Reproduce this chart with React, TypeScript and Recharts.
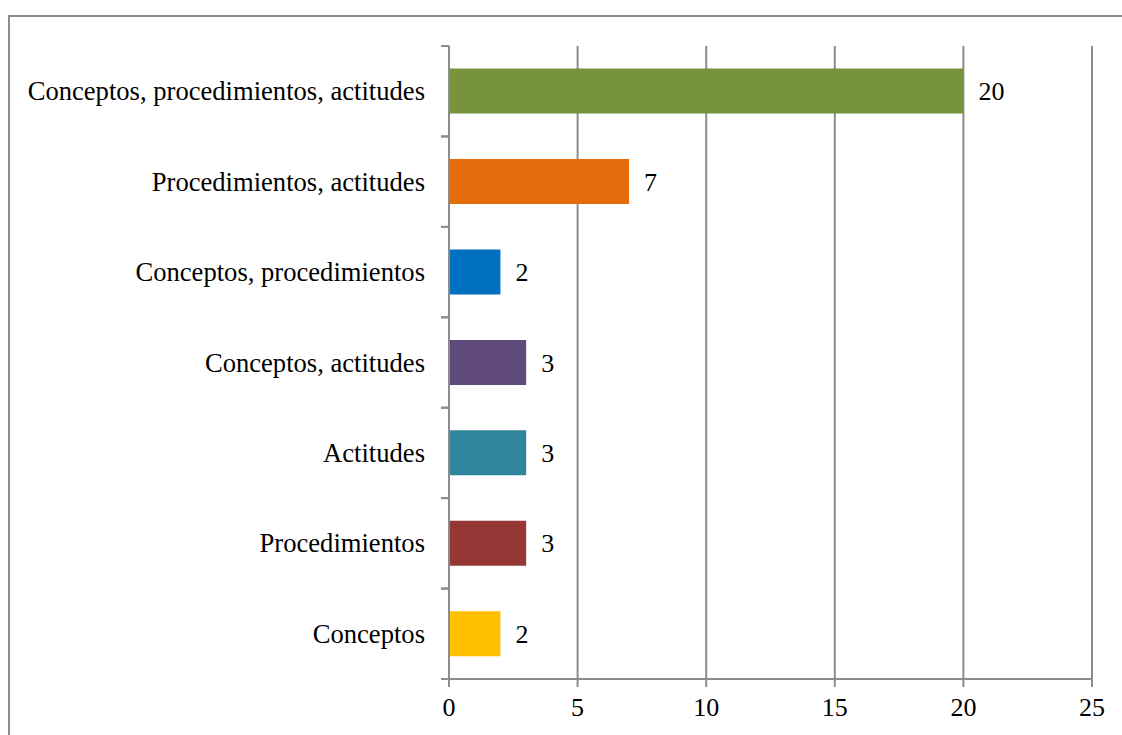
import React from "react";
import { BarChart, Bar, XAxis, YAxis, CartesianGrid, Cell, LabelList } from "recharts";

const categories = [
  "Conceptos, procedimientos, actitudes",
  "Procedimientos, actitudes",
  "Conceptos, procedimientos",
  "Conceptos, actitudes",
  "Actitudes",
  "Procedimientos",
  "Conceptos",
];
const values = [20, 7, 2, 3, 3, 3, 2];
const colors = ["#77933C", "#E46C0A", "#0070C0", "#604A7B", "#31859C", "#953735", "#FFC000"];
const xTicks = [0, 5, 10, 15, 20, 25];

const data = categories.map((c, i) => ({ name: c, value: values[i] }));

const FONT = "'Liberation Serif', 'Times New Roman', serif";
const AXIS = "#8c8c8c";

const YTick = (props: any) => {
  const { x, y, payload } = props;
  const off = payload.offset || 0;
  const ax = x + 24;
  return (
    <g>
      <line x1={ax - 8} x2={ax} y1={y - off} y2={y - off} stroke={AXIS} strokeWidth={2} />
      <line x1={ax - 8} x2={ax} y1={y + off} y2={y + off} stroke={AXIS} strokeWidth={2} />
      <text x={x} y={y} textAnchor="end" dominantBaseline="central" fontFamily={FONT} fontSize={26.6} fill="#000">
        {payload.value}
      </text>
    </g>
  );
};

export default function App() {
  return (
    <div style={{ position: "fixed", left: 0, top: 0, width: 1122, height: 735, overflow: "hidden", background: "#fff" }}>
      <div
        style={{
          position: "absolute",
          left: 8,
          top: 15,
          width: 1200,
          height: 800,
          border: "2px solid #8c8c8c",
          boxSizing: "border-box",
        }}
      />
      <div style={{ position: "absolute", left: 0, top: 0 }}>
        <BarChart
          layout="vertical"
          width={1122}
          height={735}
          data={data}
          margin={{ top: 46, right: 30, bottom: 26, left: 0 }}
          barCategoryGap="25%"
        >
          <CartesianGrid horizontal={false} vertical={true} stroke={AXIS} strokeWidth={2} strokeDasharray="" />
          <XAxis
            type="number"
            domain={[0, 25]}
            ticks={xTicks}
            interval={0}
            axisLine={{ stroke: AXIS, strokeWidth: 2 }}
            tickLine={{ stroke: AXIS, strokeWidth: 2 }}
            tickSize={8}
            tickMargin={11}
            tick={{ fontFamily: FONT, fontSize: 26, fill: "#000" }}
          />
          <YAxis
            type="category"
            dataKey="name"
            width={449}
            axisLine={{ stroke: AXIS, strokeWidth: 2 }}
            tickLine={false}
            tickSize={0}
            tickMargin={24}
            tick={<YTick />}
            interval={0}
          />
          <Bar dataKey="value" isAnimationActive={false}>
            {data.map((d, i) => (
              <Cell key={d.name} fill={colors[i]} />
            ))}
            <LabelList dataKey="value" position="right" offset={15} fontFamily={FONT} fontSize={26} fill="#000" />
          </Bar>
        </BarChart>
      </div>
    </div>
  );
}
